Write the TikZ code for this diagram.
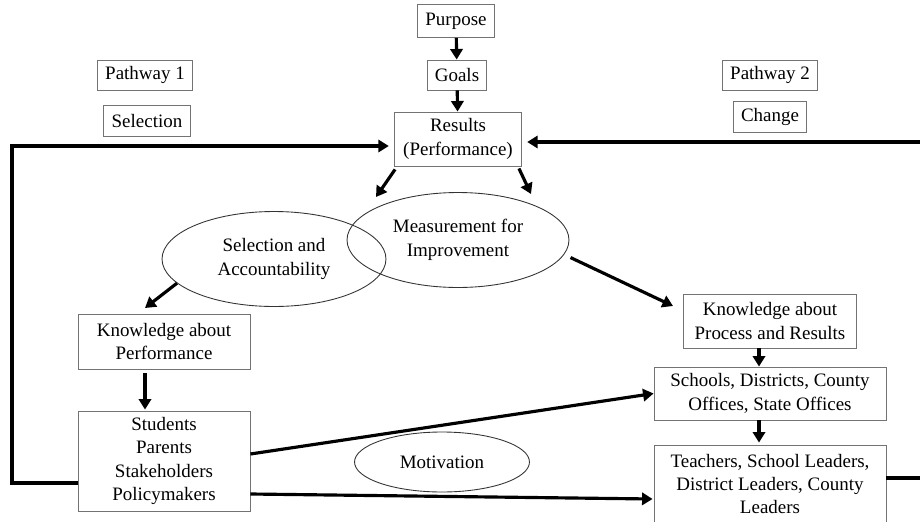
\documentclass[tikz,border=0pt]{standalone}
\usepackage{fontspec}
\setmainfont{Liberation Serif}
\usetikzlibrary{arrows.meta,shapes.geometric}

\begin{document}
\begin{tikzpicture}[x=0.02cm, y=-0.02cm,
		arr/.style={-{Triangle[length=6pt,width=7pt]}, line width=1.8pt},
		loop/.style={line width=1.8pt, line join=miter}]
	\tikzstyle{every node}=[align=center, inner sep=0pt, font=\fontsize{10.8}{13.3}\selectfont]
	\tikzstyle{box}=[draw=black!55, line width=0.5pt]
	\tikzstyle{oval}=[ellipse, draw=black!80, line width=0.5pt]
	\useasboundingbox (0,0) rectangle (920,521);

	\node[box, minimum width=1.54cm, minimum height=0.66cm] (Purpose) at (456,21) {Purpose};
	\node[box, minimum width=1.18cm, minimum height=0.6cm] (Goals) at (457,75) {Goals};
	\node[box, minimum width=1.9cm, minimum height=0.6cm] (Path1) at (145,75) {Pathway 1};
	\node[box, minimum width=1.74cm, minimum height=0.62cm] (Sel) at (147,121) {Selection};
	\node[box, minimum width=1.9cm, minimum height=0.6cm] (Path2) at (770,75) {Pathway 2};
	\node[box, minimum width=1.46cm, minimum height=0.62cm] (Change) at (770,117) {Change};
	\node[box, minimum width=2.54cm, minimum height=1.08cm] (Results) at (458,139) {Results\\(Performance)};

	\node[oval, minimum width=4.48cm, minimum height=1.9cm] (SelAcc) at (274,259) {Selection and\\Accountability};
	\node[oval, minimum width=4.44cm, minimum height=1.9cm] (Measure) at (458,240) {Measurement for\\Improvement};
	\node[oval, minimum width=3.5cm, minimum height=1.2cm] (Motiv) at (442,462) {Motivation};

	\node[box, minimum width=3.44cm, minimum height=1.1cm] (KPerf) at (164,341.5) {Knowledge about\\Performance};
	\node[box, minimum width=3.44cm, minimum height=2.0cm] (Students) at (164,461) {Students\\Parents\\Stakeholders\\Policymakers};
	\node[box, minimum width=3.46cm, minimum height=1.08cm] (KProc) at (770,321) {Knowledge about\\Process and Results};
	\node[box, minimum width=4.64cm, minimum height=1.06cm] (Schools) at (770,393.5) {Schools, Districts, County\\Offices, State Offices};
	\node[box, minimum width=4.64cm, minimum height=1.56cm] (Teachers) at (770,484) {Teachers, School Leaders,\\District Leaders, County\\Leaders};

	\coordinate (loopBL) at (12,483);
	\coordinate (loopTL) at (12,146);
	\coordinate (loopBR) at (930,478);
	\coordinate (loopTR) at (930,142);
	\coordinate (tipSel) at (376,197);
	\coordinate (tipMeas) at (531,194);
	\coordinate (tipKPerf) at (145,308);
	\coordinate (tipKProc) at (673,306);

	\draw[arr] (Purpose) -- (Goals);
	\draw[arr] (Goals) -- (Results);
	\draw[arr] ([shift={(1,3)}]Results.south west) -- (tipSel);
	\draw[arr] ([shift={(-3,2)}]Results.south east) -- (tipMeas);
	\draw[arr] (SelAcc.194) -- (tipKPerf);
	\draw[arr] ([shift={(8,1)}]Measure.-9) -- (tipKProc);
	\draw[arr] ([shift={(-19,4)}]KPerf.south) -- ([shift={(-19,-1)}]Students.north);
	\draw[arr] ([xshift=-11*0.02cm]KProc.south) -- ([xshift=-11*0.02cm]Schools.north);
	\draw[arr] ([xshift=-11*0.02cm]Schools.south) -- ([shift={(-11,-2)}]Teachers.north);
	\draw[arr] ([shift={(0,-7)}]Students.east) -- (Schools.west);
	\draw[arr] ([shift={(0,33)}]Students.east) -- ([shift={(-1,15)}]Teachers.west);

	\draw[loop, arr, shorten >=3pt] (Students.west |- loopBL) -- (loopBL) -- (loopTL) -- (loopTL -| Results.west);
	\draw[loop, arr, shorten >=3pt] (Teachers.east |- loopBR) -- (loopBR) -- (loopTR) -- (loopTR -| Results.east);
\end{tikzpicture}
\end{document}
